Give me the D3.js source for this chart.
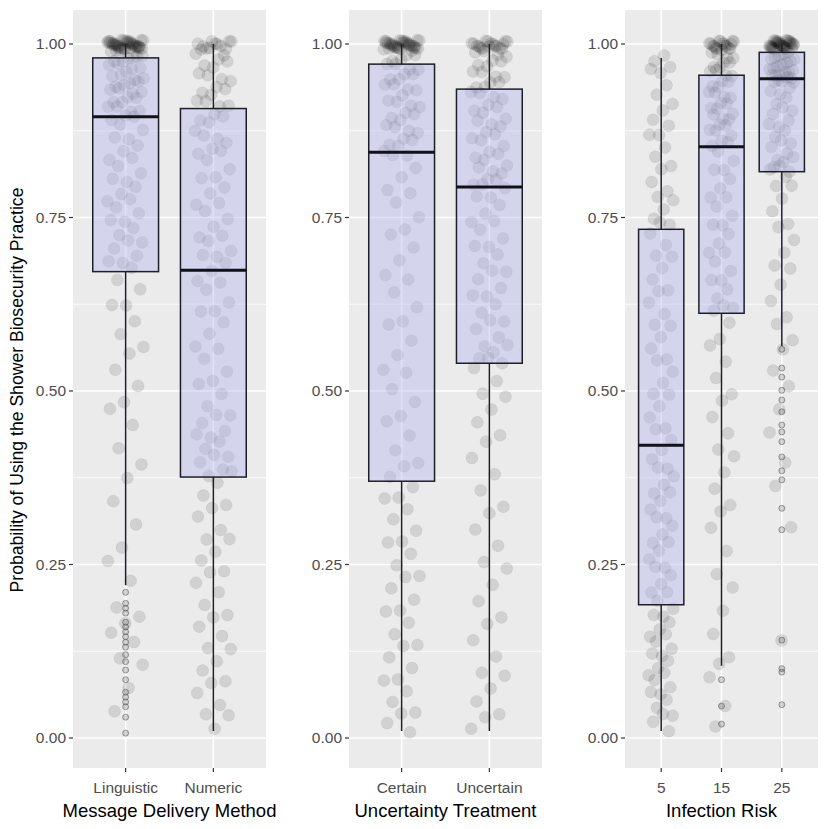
<!DOCTYPE html>
<html>
<head>
<meta charset="utf-8">
<script src="https://cdn.jsdelivr.net/npm/d3@7"></script>
<style>
body { margin: 0; background: #fff; }
text { font-family: "Liberation Sans", Arial, sans-serif; }
</style>
</head>
<body>
<svg width="829" height="829"></svg>
<script>
// categories / tick labels
var deliveryCats = ["Linguistic", "Numeric"];
var uncertaintyCats = ["Certain", "Uncertain"];
var riskCats = ["5", "15", "25"];
var yTicks = [0, 0.25, 0.5, 0.75, 1];
var yTickLabels = ["0.00", "0.25", "0.50", "0.75", "1.00"];
var yMinor = [0.125, 0.375, 0.625, 0.875];

// box stats: [lower whisker, q1, median, q3, upper whisker]
var linguisticBox = [0.22, 0.672, 0.895, 0.980, 1.00];
var numericBox    = [0.01, 0.376, 0.674, 0.907, 1.00];
var certainBox    = [0.01, 0.370, 0.844, 0.971, 1.00];
var uncertainBox  = [0.01, 0.540, 0.794, 0.935, 1.00];
var risk5Box      = [0.01, 0.192, 0.422, 0.733, 0.98];
var risk15Box     = [0.104, 0.612, 0.852, 0.955, 1.00];
var risk25Box     = [0.565, 0.816, 0.950, 0.988, 1.00];

// outliers
var linguisticOut = [0.21, 0.194, 0.187, 0.18, 0.167, 0.16, 0.153, 0.146, 0.138, 0.131, 0.12, 0.11, 0.098, 0.084, 0.066, 0.059, 0.052, 0.045, 0.03, 0.007];
var risk15Out = [0.084, 0.046, 0.02];
var risk25Out = [0.56, 0.533, 0.52, 0.501, 0.487, 0.47, 0.451, 0.441, 0.427, 0.405, 0.385, 0.372, 0.331, 0.30, 0.141, 0.10, 0.095, 0.048];

// responses (jittered points)
var linguisticPts = [1,1,1,1,1,1,1,1,1,1,1,1,1,1,1,1,1,1,1,1,1,1,1,1,1,1,1,1,1,1,1,1,1,1,.995,.995,.99,.99,.99,.985,.985,.98,.98,
  .979,.975,.972,.97,.968,.965,.962,.96,.957,.955,.952,.95,.947,.945,.942,.94,.937,.935,.932,.93,.926,.922,.918,.915,.912,.908,.905,.902,.899,.896,
  .89,.882,.878,.868,.86,.852,.847,.838,.83,.822,.815,.806,.80,.792,.785,.778,.77,.762,.757,.748,.74,.732,.725,.718,.71,.702,.695,.688,.68,.674,
  .66,.65,.63,.62,.60,.585,.57,.55,.53,.51,.49,.47,.45,.42,.40,.37,.34,.31,.28,.25,.225,.19,.18,.16,.15,.14,.12,.10,.07,.04];
var numericPts = [1,1,1,1,1,1,1,1,1,1,.995,.99,.99,.985,.98,.975,.97,.965,.96,.955,.95,.945,.94,.935,.93,.925,.92,.915,.912,.909,
  .90,.895,.89,.885,.876,.868,.862,.855,.85,.846,.84,.83,.82,.812,.80,.79,.785,.772,.764,.756,.748,.74,.728,.72,.716,.705,.70,.692,.684,.676,
  .665,.652,.645,.63,.621,.61,.598,.585,.57,.556,.545,.53,.52,.505,.494,.48,.47,.46,.452,.444,.438,.432,.425,.418,.41,.402,.395,.388,.382,.378,
  .365,.35,.34,.325,.316,.30,.29,.28,.265,.256,.244,.232,.22,.21,.195,.184,.17,.16,.15,.136,.124,.11,.10,.088,.075,.064,.05,.04,.028,.012];
var certainPts = [1,1,1,1,1,1,1,1,1,1,1,1,1,1,1,1,1,1,1,1,1,1,1,1,1,1,1,1,1,1,.995,.995,.99,.99,.985,.98,.978,.975,.972,
  .968,.965,.96,.957,.953,.95,.946,.942,.938,.935,.93,.926,.922,.918,.913,.909,.904,.90,.895,.89,.886,.881,.876,.871,.866,.861,.857,.852,.848,.845,
  .835,.82,.81,.795,.78,.77,.752,.738,.72,.705,.69,.672,.655,.64,.622,.605,.59,.57,.553,.535,.52,.50,.485,.468,.45,.433,.415,.40,.385,.373,
  .362,.35,.338,.326,.315,.302,.29,.278,.265,.252,.24,.228,.215,.202,.19,.178,.165,.152,.14,.128,.115,.103,.09,.078,.066,.054,.042,.03,.02,.01];
var uncertainPts = [1,1,1,1,1,1,1,1,1,1,1,1,1,1,1,1,.995,.995,.99,.99,.985,.98,.978,.975,.97,.966,.962,.958,.954,.95,.946,.942,.939,.936,
  .932,.928,.923,.918,.913,.908,.903,.898,.893,.888,.883,.878,.873,.868,.863,.858,.853,.848,.843,.838,.833,.828,.823,.818,.813,.808,.804,.80,.797,.795,
  .785,.776,.767,.758,.749,.74,.731,.722,.713,.704,.695,.686,.677,.668,.659,.65,.641,.632,.623,.614,.605,.596,.587,.578,.569,.56,.553,.548,.544,.541,
  .53,.515,.50,.485,.47,.455,.44,.42,.40,.38,.36,.34,.32,.30,.28,.26,.24,.22,.20,.18,.16,.14,.12,.10,.085,.07,.055,.04,.025,.012];
var risk5Pts = [.98,.975,.97,.965,.96,.94,.93,.92,.90,.89,.885,.875,.865,.85,.84,.83,.815,.80,.79,.785,.77,.76,.75,.745,.738,
  .725,.712,.70,.688,.675,.662,.65,.638,.625,.612,.60,.588,.575,.562,.55,.538,.525,.512,.50,.488,.475,.462,.45,.438,.426,
  .415,.405,.395,.386,.377,.368,.359,.35,.341,.332,.323,.314,.305,.296,.287,.278,.269,.26,.251,.242,.233,.224,.215,.205,.196,
  .188,.18,.172,.165,.158,.151,.144,.137,.13,.123,.116,.109,.102,.095,.088,.081,.074,.067,.06,.052,.044,.036,.028,.02,.01];
var risk15Pts = [1,1,1,1,1,1,1,1,1,1,1,1,1,1,1,1,.995,.99,.99,.985,.98,.978,.975,.972,.968,.965,.962,.96,.957,
  .952,.948,.944,.94,.936,.932,.928,.924,.92,.916,.912,.908,.904,.90,.896,.892,.888,.884,.88,.876,.872,.868,.864,.86,.855,
  .845,.835,.825,.815,.805,.795,.785,.775,.765,.755,.745,.735,.725,.715,.705,.695,.685,.675,.665,.655,.645,.635,.625,.618,.614,
  .60,.58,.56,.54,.52,.50,.48,.46,.44,.42,.40,.38,.36,.34,.32,.30,.27,.24,.21,.18,.15,.12,.10,.084,.046,.02];
var risk25Pts = [1,1,1,1,1,1,1,1,1,1,1,1,1,1,1,1,1,1,1,1,1,1,1,1,1,1,1,1,1,1,.995,.99,.99,
  .986,.984,.982,.98,.978,.976,.974,.972,.97,.968,.966,.964,.962,.96,.958,.957,.956,.955,.954,.953,.952,.952,.951,.951,.95,
  .945,.94,.934,.928,.922,.916,.91,.904,.898,.892,.886,.88,.874,.868,.862,.856,.85,.844,.838,.832,.828,.824,.821,.819,.817,
  .81,.80,.79,.775,.76,.745,.73,.715,.70,.685,.67,.65,.63,.61,.59,.57,.56,.533,.50,.47,.44,.40,.37,.30,.14];

var svg = d3.select("svg");
svg.append("rect").attr("width", 829).attr("height", 829).attr("fill", "#fff");

var panelTop = 10, panelBottom = 768;
var y = d3.scaleLinear().domain([0, 1]).range([738, 44]);

var panels = [
  {cats: deliveryCats, left: 73, right: 266, title: "Message Delivery Method",
   boxes: [linguisticBox, numericBox], pts: [linguisticPts, numericPts], out: [linguisticOut, []]},
  {cats: uncertaintyCats, left: 349, right: 542, title: "Uncertainty Treatment",
   boxes: [certainBox, uncertainBox], pts: [certainPts, uncertainPts], out: [[], []]},
  {cats: riskCats, left: 625, right: 818, title: "Infection Risk",
   boxes: [risk5Box, risk15Box, risk25Box], pts: [risk5Pts, risk15Pts, risk25Pts], out: [[], risk15Out, risk25Out]}
];

panels.forEach(function (p) {
  var x = d3.scalePoint().domain(p.cats).range([p.left, p.right]).padding(0.6);
  var step = x.step();
  var g = svg.append("g");

  g.append("rect")
  .attr("x", p.left).attr("y", panelTop)
  .attr("width", p.right - p.left).attr("height", panelBottom - panelTop)
  .attr("fill", "#EBEBEB");

  yMinor.forEach(function (t) {
    g.append("line").attr("x1", p.left).attr("x2", p.right)
    .attr("y1", y(t)).attr("y2", y(t))
    .attr("stroke", "#fff").attr("stroke-width", 0.8);
  });
  yTicks.forEach(function (t) {
    g.append("line").attr("x1", p.left).attr("x2", p.right)
    .attr("y1", y(t)).attr("y2", y(t))
    .attr("stroke", "#fff").attr("stroke-width", 1.6);
  });
  p.cats.forEach(function (c) {
    g.append("line").attr("x1", x(c)).attr("x2", x(c))
    .attr("y1", panelTop).attr("y2", panelBottom)
    .attr("stroke", "#fff").attr("stroke-width", 1.6);
  });

  // jittered points
  p.cats.forEach(function (c, gi) {
    p.pts[gi].forEach(function (v, i) {
      var jx = (((i + 1) * 0.618034 + gi * 0.37) % 1 - 0.5) * 0.42 * step;
      var jy = (((i + 1) * 0.754877) % 1 - 0.5) * 0.014;
      g.append("circle")
      .attr("cx", x(c) + jx).attr("cy", y(Math.min(1.006, v + jy)))
      .attr("r", 6)
      .attr("fill", "#000").attr("fill-opacity", 0.11)
      .attr("stroke", "#000").attr("stroke-opacity", 0.05);
    });
  });

  // boxes
  p.cats.forEach(function (c, gi) {
    var b = p.boxes[gi];
    var bw = 0.75 * step;
    g.append("line").attr("x1", x(c)).attr("x2", x(c))
    .attr("y1", y(b[4])).attr("y2", y(b[3]))
    .attr("stroke", "#1e1e2a").attr("stroke-width", 1.5);
    g.append("line").attr("x1", x(c)).attr("x2", x(c))
    .attr("y1", y(b[1])).attr("y2", y(b[0]))
    .attr("stroke", "#1e1e2a").attr("stroke-width", 1.5);
    g.append("rect")
    .attr("x", x(c) - bw / 2).attr("y", y(b[3]))
    .attr("width", bw).attr("height", y(b[1]) - y(b[3]))
    .attr("fill", "#b4b4f0").attr("fill-opacity", 0.42)
    .attr("stroke", "#1e1e2a").attr("stroke-width", 1.5);
    g.append("line").attr("x1", x(c) - bw / 2).attr("x2", x(c) + bw / 2)
    .attr("y1", y(b[2])).attr("y2", y(b[2]))
    .attr("stroke", "#111118").attr("stroke-width", 3);

    p.out[gi].forEach(function (v) {
      g.append("circle")
      .attr("cx", x(c)).attr("cy", y(v)).attr("r", 3)
      .attr("fill", "#000").attr("fill-opacity", 0.15)
      .attr("stroke", "#555").attr("stroke-opacity", 0.55).attr("stroke-width", 1);
    });
  });

  // y axis
  yTicks.forEach(function (t, i) {
    g.append("line").attr("x1", p.left - 4).attr("x2", p.left)
    .attr("y1", y(t)).attr("y2", y(t))
    .attr("stroke", "#333").attr("stroke-width", 1.2);
    g.append("text").attr("x", p.left - 7).attr("y", y(t))
    .attr("dy", "0.35em").attr("text-anchor", "end")
    .attr("font-size", "15.5px").attr("fill", "#4D4D4D")
    .text(yTickLabels[i]);
  });

  // x axis
  p.cats.forEach(function (c) {
    g.append("line").attr("x1", x(c)).attr("x2", x(c))
    .attr("y1", panelBottom).attr("y2", panelBottom + 4)
    .attr("stroke", "#333").attr("stroke-width", 1.2);
    g.append("text").attr("x", x(c)).attr("y", 793)
    .attr("text-anchor", "middle")
    .attr("font-size", "15.5px").attr("fill", "#4D4D4D")
    .text(c);
  });

  g.append("text").attr("x", (p.left + p.right) / 2).attr("y", 817)
  .attr("text-anchor", "middle").attr("font-size", "18.5px").attr("fill", "#000")
  .text(p.title);
});

svg.append("text")
.attr("transform", "translate(23," + 390 + ") rotate(-90)")
.attr("text-anchor", "middle").attr("font-size", "17.6px").attr("fill", "#000")
.text("Probability of Using the Shower Biosecurity Practice");
</script>
</body>
</html>
